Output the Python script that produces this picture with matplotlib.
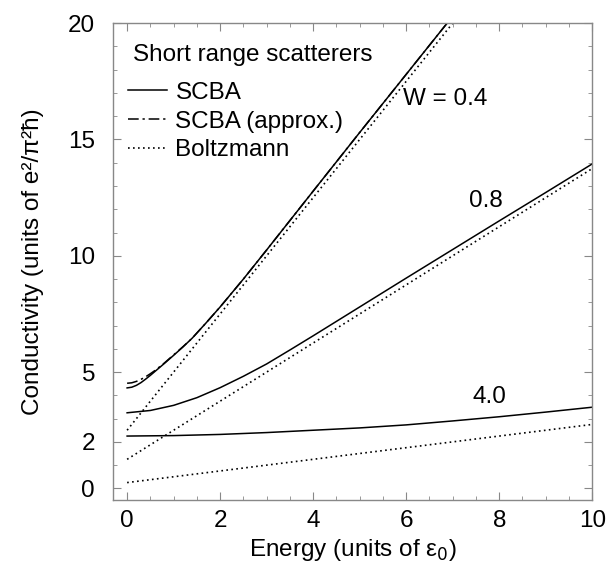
import numpy as np
import matplotlib
matplotlib.use("Agg")
import matplotlib.pyplot as plt
from matplotlib.ticker import MultipleLocator, FixedLocator
from matplotlib.lines import Line2D

plt.rcParams['font.family'] = ['Liberation Sans', 'DejaVu Sans']

# SCBA curves
x_w04 = [0, 0.1, 0.2, 0.3, 0.4, 0.5, 0.6, 0.8, 1.0, 1.2, 1.4, 1.7, 2.0, 2.5, 3.0, 4.0, 5.0, 6.0, 7.0]
scba_w04 = [4.32, 4.35, 4.43, 4.55, 4.70, 4.86, 5.03, 5.37, 5.72, 6.08, 6.46, 7.12, 7.80,
            9.0, 10.25, 12.78, 15.3, 17.8, 20.3]
approx_w04 = [4.52, 4.54, 4.60, 4.69, 4.80, 4.93, 5.07, 5.39, 5.74, 6.09, 6.46, 7.12, 7.80,
              9.0, 10.25, 12.78, 15.3, 17.8, 20.3]

x_w08 = [0, 0.5, 1, 1.5, 2, 2.5, 3, 3.5, 4, 5, 6, 7, 8, 9, 10]
scba_w08 = [3.25, 3.35, 3.57, 3.90, 4.33, 4.82, 5.35, 5.95, 6.56, 7.80, 9.04, 10.27, 11.5, 12.72, 13.95]

x_w40 = [0, 1, 2, 3, 4, 5, 6, 7, 8, 9, 10]
scba_w40 = [2.25, 2.27, 2.32, 2.4, 2.5, 2.6, 2.73, 2.9, 3.08, 3.28, 3.49]

# Boltzmann straight lines (end points)
boltz_x04 = [0, 7.2]
boltz_w04 = [2.5, 20.5]
boltz_x = [0, 10]
boltz_w08 = [1.25, 13.75]
boltz_w40 = [0.25, 2.75]

legend_title = 'Short range scatterers'
legend_labels = ['SCBA', 'SCBA (approx.)', 'Boltzmann']

fs = 17.5
fig = plt.figure(figsize=(6.15, 5.65), dpi=100)
ax = fig.add_axes([0.184, 0.115, 0.779, 0.844])

lw = 1.1
dot = (0, (1, 2))
dashdot = (0, (7, 2.5, 1.5, 2.5))

ax.plot(x_w04, scba_w04, color='black', lw=lw)
ax.plot(x_w04, approx_w04, color='black', lw=lw, ls=dashdot)
ax.plot(boltz_x04, boltz_w04, color='black', lw=1.2, ls=dot)

ax.plot(x_w08, scba_w08, color='black', lw=lw)
ax.plot(boltz_x, boltz_w08, color='black', lw=1.2, ls=dot)
ax.plot(x_w40, scba_w40, color='black', lw=lw)
ax.plot(boltz_x, boltz_w40, color='black', lw=1.2, ls=dot)

ax.text(5.94, 16.72, 'W = 0.4', fontsize=fs, va='center', ha='left')
ax.text(7.71, 12.36, '0.8', fontsize=fs, va='center', ha='center')
ax.text(7.80, 3.95, '4.0', fontsize=fs, va='center', ha='center')

ax.set_xlim(-0.3, 10)
ax.set_ylim(-0.5, 20)
ax.xaxis.set_major_locator(MultipleLocator(2))
ax.xaxis.set_minor_locator(MultipleLocator(0.5))
ax.yaxis.set_major_locator(FixedLocator([0, 2, 5, 10, 15, 20]))
ax.yaxis.set_minor_locator(MultipleLocator(1))

ax.tick_params(which='both', direction='in', top=True, right=True,
               color='#888888', labelsize=fs)
ax.tick_params(axis='y', which='major', length=6, width=0.8, pad=13)
ax.tick_params(axis='x', which='major', length=6, width=0.8, pad=7)
ax.tick_params(which='minor', length=3, width=0.6)
for s in ax.spines.values():
    s.set_color('#888888')
    s.set_linewidth(1.0)

ax.set_xlabel('Energy (units of ε$_0$)', fontsize=fs, labelpad=4)
ax.set_ylabel('Conductivity (units of e²/π²ħ)', fontsize=fs, labelpad=17)

# legend: title as plain text, entries below
ax.text(0.0405, 0.920, legend_title, transform=ax.transAxes, fontsize=fs,
        ha='left', va='baseline')
handles = [Line2D([], [], color='black', lw=lw),
           Line2D([], [], color='black', lw=lw, ls=dashdot),
           Line2D([], [], color='black', lw=1.2, ls=dot)]
ax.legend(handles, legend_labels, loc='upper left', bbox_to_anchor=(0.031, 0.877),
          frameon=False, fontsize=fs, handlelength=1.6, handletextpad=0.35,
          labelspacing=0.28, borderpad=0, borderaxespad=0)

fig.savefig('out.png', dpi=100)
